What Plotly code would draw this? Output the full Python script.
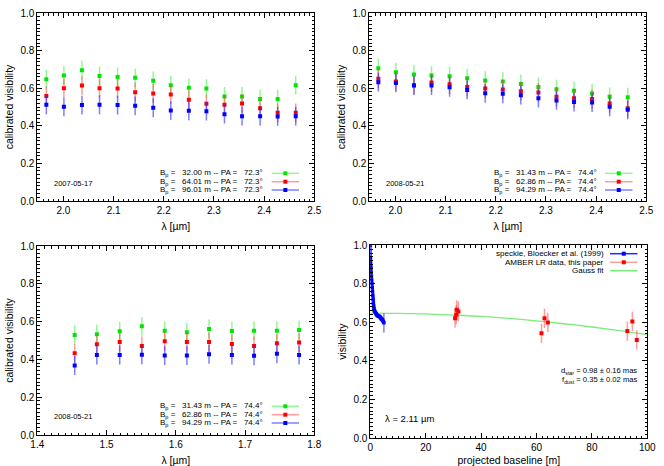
import plotly.graph_objects as go

# ---------------- data ----------------
# Panel 1: 2007-05-17, K band
lam_k = [1.966, 2.001, 2.037, 2.072, 2.108, 2.143, 2.179, 2.214, 2.250, 2.285, 2.321, 2.356, 2.392, 2.427, 2.463]
p1_green = [0.648, 0.667, 0.696, 0.665, 0.660, 0.655, 0.639, 0.616, 0.602, 0.598, 0.556, 0.556, 0.543, 0.542, 0.616]
p1_red   = [0.559, 0.600, 0.614, 0.600, 0.598, 0.579, 0.572, 0.566, 0.538, 0.517, 0.512, 0.519, 0.494, 0.469, 0.469]
p1_blue  = [0.512, 0.501, 0.510, 0.512, 0.510, 0.506, 0.496, 0.481, 0.480, 0.478, 0.462, 0.451, 0.451, 0.450, 0.451]
p1_err = [0.05] * 15
p1_labels = ["32.00", "64.01", "96.01"]
p1_pa = "72.3"

# Panel 2: 2008-05-21, K band
p2_green = [0.706, 0.685, 0.673, 0.667, 0.664, 0.653, 0.641, 0.635, 0.623, 0.607, 0.595, 0.586, 0.572, 0.554, 0.552]
p2_red   = [0.650, 0.635, 0.616, 0.630, 0.621, 0.607, 0.598, 0.593, 0.584, 0.577, 0.554, 0.547, 0.542, 0.519, 0.494]
p2_blue  = [0.632, 0.628, 0.614, 0.614, 0.605, 0.591, 0.573, 0.570, 0.563, 0.547, 0.535, 0.526, 0.524, 0.501, 0.485]
p2_err = [0.05] * 15
p23_labels = ["31.43", "62.86", "94.29"]
p23_pa = "74.4"

# Panel 3: 2008-05-21, H band
lam_h = [1.454, 1.486, 1.519, 1.551, 1.584, 1.616, 1.648, 1.681, 1.713, 1.746, 1.778]
p3_green = [0.529, 0.533, 0.549, 0.575, 0.552, 0.543, 0.561, 0.550, 0.552, 0.552, 0.556]
p3_red   = [0.432, 0.480, 0.492, 0.471, 0.496, 0.492, 0.492, 0.481, 0.471, 0.485, 0.489]
p3_blue  = [0.368, 0.423, 0.423, 0.425, 0.421, 0.421, 0.427, 0.423, 0.419, 0.430, 0.423]
p3_err = [0.05] * 11

# Panel 4: visibility vs projected baseline
speckle_b = [0.0, 0.05, 0.1, 0.15, 0.2, 0.3, 0.4, 0.5, 0.6, 0.7, 0.8, 0.9, 1.0, 1.1, 1.2, 1.3, 1.4,
             1.5, 1.7, 1.9, 2.1, 2.3, 2.5, 2.7, 2.9, 3.1, 3.3, 3.5, 3.7, 3.9, 4.1, 4.3, 4.5, 4.7, 4.9]
speckle_v = [1.0, 0.93, 0.91, 0.89, 0.88, 0.86, 0.84, 0.82, 0.80, 0.78, 0.76, 0.74, 0.72, 0.70, 0.685, 0.672, 0.665,
             0.66, 0.655, 0.65, 0.645, 0.64, 0.637, 0.635, 0.633, 0.632, 0.63, 0.628, 0.624, 0.62, 0.617, 0.614, 0.61, 0.605, 0.598]
speckle_err = [0.005] * 34 + [0.05]

amber_b = [30.6, 31.0, 31.2, 31.8, 61.8, 62.9, 64.1, 92.8, 94.6, 96.2]
amber_v = [0.622, 0.640, 0.665, 0.657, 0.543, 0.621, 0.600, 0.555, 0.605, 0.509]
amber_err = [0.05] * 10

gauss_b = [0, 10, 20, 30, 40, 50, 60, 70, 80, 90, 100]
gauss_v = [0.648, 0.647, 0.644, 0.638, 0.631, 0.621, 0.608, 0.593, 0.576, 0.557, 0.537]

# ---------------- styles ----------------
FONT = "Liberation Sans, Arial, Helvetica, sans-serif"
C_G, C_R, C_B = "#00e600", "#ff0000", "#0000ff"
E_G, E_R, E_B = "rgba(60,240,60,0.55)", "rgba(255,60,60,0.5)", "rgba(40,40,255,0.6)"
FIT = "#7ced7c"

W, H = 664, 466
# panel pixel boxes: (left, right, top, bottom)
boxes = {
    1: (37.3, 314.3, 13.0, 201.0),
    2: (369.3, 646.3, 13.0, 201.0),
    3: (37.3, 314.3, 246.0, 435.0),
    4: (370.3, 647.3, 245.3, 438.0),
}

fig = go.Figure()


def ax_name(i, kind):
    return kind if i == 1 else f"{kind}{i}"


def add_err_trace(i, x, y, err, mcol, ecol, msize=4):
    fig.add_trace(go.Scatter(
        x=x, y=y, mode="markers",
        marker=dict(symbol="square", size=msize, color=mcol, line=dict(width=0)),
        error_y=dict(type="data", array=err, visible=True, color=ecol, thickness=1.5, width=0),
        xaxis=ax_name(i, "x"), yaxis=ax_name(i, "y"), showlegend=False, hoverinfo="x+y"))


add_err_trace(1, lam_k, p1_green, p1_err, C_G, E_G)
add_err_trace(1, lam_k, p1_red, p1_err, C_R, E_R)
add_err_trace(1, lam_k, p1_blue, p1_err, C_B, E_B)
add_err_trace(2, lam_k, p2_green, p2_err, C_G, E_G)
add_err_trace(2, lam_k, p2_red, p2_err, C_R, E_R)
add_err_trace(2, lam_k, p2_blue, p2_err, C_B, E_B)
add_err_trace(3, lam_h, p3_green, p3_err, C_G, E_G)
add_err_trace(3, lam_h, p3_red, p3_err, C_R, E_R)
add_err_trace(3, lam_h, p3_blue, p3_err, C_B, E_B)

# panel 4
fig.add_trace(go.Scatter(x=gauss_b, y=gauss_v, mode="lines", line=dict(color=FIT, width=1.3, shape="spline"),
                         xaxis="x4", yaxis="y4", showlegend=False))
fig.add_trace(go.Scatter(x=speckle_b, y=speckle_v, mode="lines+markers",
                         line=dict(color="rgba(0,0,255,0.85)", width=2.5),
                         marker=dict(symbol="square", size=3.5, color=C_B),
                         error_y=dict(type="data", array=speckle_err, color=E_B, thickness=1.5, width=0),
                         xaxis="x4", yaxis="y4", showlegend=False))
add_err_trace(4, amber_b, amber_v, amber_err, C_R, E_R)


def axis_common():
    return dict(
        showline=True, linecolor="black", linewidth=1, mirror="allticks",
        ticks="inside", ticklen=5, tickwidth=1, tickcolor="black",
        showgrid=False, zeroline=False, automargin=False,
        tickfont=dict(family=FONT, size=10, color="black"),
    )


xranges = {1: (1.948, 2.5), 2: (1.948, 2.5), 3: (1.4, 1.8), 4: (0, 100)}
xdt = {1: 0.1, 2: 0.1, 3: 0.1, 4: 20}
xminor = {1: 0.01, 2: 0.01, 3: 0.01, 4: 2}
xtitles = {1: "λ [µm]", 2: "λ [µm]", 3: "λ [µm]", 4: "projected baseline [m]"}
ytitles = {1: "calibrated visibility", 2: "calibrated visibility", 3: "calibrated visibility", 4: "visibility"}
xfmt = {1: ".1f", 2: ".1f", 3: ".1f", 4: "d"}

for i, (l, r, t, b) in boxes.items():
    xa = axis_common()
    xa.update(domain=[l / W, r / W], range=list(xranges[i]), dtick=xdt[i],
              tick0=0, tickformat=xfmt[i], anchor=ax_name(i, "y"),
              minor=dict(ticks="inside", ticklen=2.5, dtick=xminor[i], tickcolor="black", tick0=0),
              title=dict(text=xtitles[i], font=dict(family=FONT, size=10.5, color="black"), standoff=7))
    ya = axis_common()
    ya.update(domain=[1 - b / H, 1 - t / H], range=[0, 1], dtick=0.2, tick0=0, tickformat=".1f",
              anchor=ax_name(i, "x"),
              minor=dict(ticks="inside", ticklen=2.5, dtick=0.02, tickcolor="black", tick0=0),
              title=dict(text=ytitles[i], font=dict(family=FONT, size=10.5, color="black"), standoff=4))
    fig.layout["xaxis" if i == 1 else f"xaxis{i}"] = xa
    fig.layout["yaxis" if i == 1 else f"yaxis{i}"] = ya

annotations = []
shapes = []
NB = "\u00a0"


def dom_x(i, px):
    l, r, t, b = boxes[i]
    return (px - l) / (r - l)


def dom_y(i, py):
    l, r, t, b = boxes[i]
    return (b - py) / (b - t)


def legend_entry(i, text, text_right_px, y_px, s_left_px, s_right_px, lcol, mcol, show_marker=True):
    annotations.append(dict(
        xref=f"{ax_name(i, 'x')} domain", yref=f"{ax_name(i, 'y')} domain",
        x=dom_x(i, text_right_px), y=dom_y(i, y_px), xanchor="right", yanchor="middle",
        text=text, showarrow=False, font=dict(family=FONT, size=8, color="black")))
    shapes.append(dict(type="line", xref=f"{ax_name(i, 'x')} domain", yref=f"{ax_name(i, 'y')} domain",
                       x0=dom_x(i, s_left_px), x1=dom_x(i, s_right_px), y0=dom_y(i, y_px), y1=dom_y(i, y_px),
                       line=dict(color=lcol, width=1.5)))
    if show_marker:
        cx = (s_left_px + s_right_px) / 2
        shapes.append(dict(type="rect", xref=f"{ax_name(i, 'x')} domain", yref=f"{ax_name(i, 'y')} domain",
                           x0=dom_x(i, cx - 2), x1=dom_x(i, cx + 2), y0=dom_y(i, y_px + 2), y1=dom_y(i, y_px - 2),
                           fillcolor=mcol, line=dict(width=0)))


def bp_text(val, pa):
    return f"B<sub>p</sub> ={NB*3}{val} m -- PA ={NB*3}{pa}°"


# panel legends: (panel, labels, pa, text right px, row ys, sample left, sample right, date, date left px, date y)
panel_leg = [
    (1, p1_labels, p1_pa, 265.0, [173.3, 181.7, 190.0], 271.7, 299.0, "2007-05-17", 52.0, 184.0),
    (2, p23_labels, p23_pa, 598.5, [173.3, 181.7, 190.0], 605.0, 632.5, "2008-05-21", 384.0, 184.0),
    (3, p23_labels, p23_pa, 265.0, [406.3, 414.7, 423.0], 271.7, 299.0, "2008-05-21", 52.0, 416.0),
]
for i, labels, pa, tr, ys, sl, sr, date, dl, dy in panel_leg:
    for lab, yy, lc, mc in zip(labels, ys, [E_G, E_R, E_B], [C_G, C_R, C_B]):
        legend_entry(i, bp_text(lab, pa), tr, yy, sl, sr, lc, mc)
    annotations.append(dict(xref=f"{ax_name(i, 'x')} domain", yref=f"{ax_name(i, 'y')} domain",
                            x=dom_x(i, dl), y=dom_y(i, dy), xanchor="left", yanchor="middle",
                            text=date, showarrow=False, font=dict(family=FONT, size=7.5, color="black")))

# panel 4 legend
legend_entry(4, "speckle, Bloecker et al. (1999)", 606.0, 253.7, 610.0, 637.5, "rgba(0,0,255,0.85)", C_B)
legend_entry(4, "AMBER LR data, this paper", 606.0, 262.3, 610.0, 637.5, E_R, C_R)
legend_entry(4, "Gauss fit", 606.0, 270.7, 610.0, 637.5, FIT, FIT, show_marker=False)

annotations.append(dict(xref="x4 domain", yref="y4 domain", x=dom_x(4, 638.5), y=dom_y(4, 370.5),
                        xanchor="right", yanchor="middle", showarrow=False,
                        text="d<sub>star</sub> = 0.98 ± 0.16 mas", font=dict(family=FONT, size=7.6, color="black")))
annotations.append(dict(xref="x4 domain", yref="y4 domain", x=dom_x(4, 638.5), y=dom_y(4, 379.5),
                        xanchor="right", yanchor="middle", showarrow=False,
                        text="f<sub>dust</sub> = 0.35 ± 0.02 mas", font=dict(family=FONT, size=7.6, color="black")))
annotations.append(dict(xref="x4 domain", yref="y4 domain", x=dom_x(4, 383.0), y=dom_y(4, 418.0),
                        xanchor="left", yanchor="middle", showarrow=False,
                        text="λ = 2.11 µm", font=dict(family=FONT, size=9.5, color="black")))

fig.update_layout(
    width=W, height=H, margin=dict(l=0, r=0, t=0, b=0, autoexpand=False),
    paper_bgcolor="white", plot_bgcolor="white",
    font=dict(family=FONT, size=10, color="black"),
    showlegend=False, annotations=annotations, shapes=shapes,
)

fig.write_html("out.html", config={"displayModeBar": False},
               post_script="document.body.style.margin='0';document.body.style.overflow='hidden';")
